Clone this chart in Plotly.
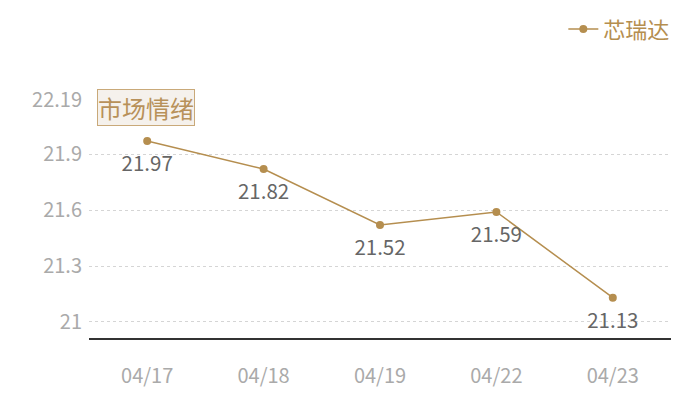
import plotly.graph_objects as go

# data
dates = ["04/17", "04/18", "04/19", "04/22", "04/23"]
prices = [21.97, 21.82, 21.52, 21.59, 21.13]
y_ticks = [21, 21.3, 21.6, 21.9, 22.19]
y_tick_text = ["21", "21.3", "21.6", "21.9", "22.19"]

gold = "#b58e4f"
font_family = "Noto Sans CJK SC, Noto Sans, sans-serif"

fig = go.Figure()
fig.add_trace(go.Scatter(
    x=dates, y=prices,
    name="芯瑞达",
    mode="lines+markers",
    line=dict(color=gold, width=1.5),
    marker=dict(color=gold, size=8),
))
# value labels: invisible bigger markers push the text a bit further below the points
fig.add_trace(go.Scatter(
    x=dates, y=prices,
    mode="markers+text",
    marker=dict(color="rgba(0,0,0,0)", size=22),
    text=[str(v) for v in prices],
    textposition="bottom center",
    textfont=dict(color="#666666", size=20.5, family=font_family),
    showlegend=False, hoverinfo="skip",
))

# the boxed caption in the top left corner
fig.add_annotation(
    text="市场情绪", xref="paper", yref="paper",
    x=0.0137, y=1.048, xanchor="left", yanchor="top",
    showarrow=False,
    font=dict(size=24, color="#b8915a", family=font_family),
    bgcolor="#f5f1ec", bordercolor="#c9a979", borderwidth=1, borderpad=0,
)

# page body has an 8px margin, so the figure is 8px smaller and margins shifted
fig.update_layout(
    width=692, height=392,
    margin=dict(l=81, r=29, t=92, b=62, autoexpand=False),
    plot_bgcolor="white", paper_bgcolor="white",
    font=dict(family=font_family),
    showlegend=True,
    legend=dict(
        orientation="h", x=0.815, xanchor="left", y=1.386, yanchor="top",
        font=dict(size=22, color=gold, family=font_family),
        bgcolor="rgba(0,0,0,0)", itemwidth=30,
    ),
)

fig.update_xaxes(
    type="category", range=[-0.5, 4.5],
    showgrid=False, zeroline=False,
    showline=True, linecolor="#333333", linewidth=1.5,
    ticks="", tickfont=dict(size=20, color="#aaaaaa"),
    ticklabelstandoff=19,
)
fig.update_yaxes(
    range=[20.914, 22.19],
    tickvals=y_ticks, ticktext=y_tick_text,
    showgrid=True, gridcolor="#d5d5d5", griddash="dot", gridwidth=1,
    zeroline=False, showline=False,
    tickfont=dict(size=20, color="#aaaaaa"),
    ticklabelstandoff=6,
)

fig.write_html("out.html")
